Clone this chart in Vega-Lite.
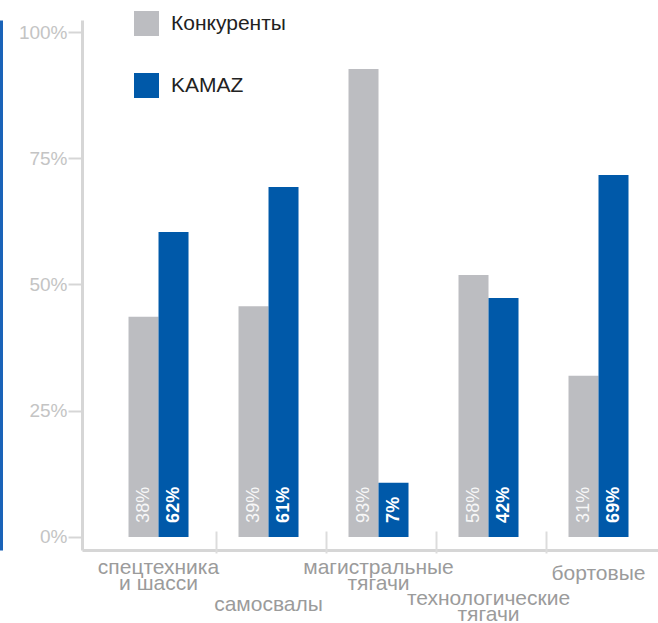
{
  "$schema": "https://vega.github.io/schema/vega-lite/v6.json",
  "width": 576,
  "height": 530,
  "autosize": {"type": "none"},
  "padding": {"left": 82, "top": 20, "right": 0, "bottom": 73},
  "background": "#ffffff",
  "config": {
    "font": "Liberation Sans",
    "view": {"stroke": null},
    "axis": {"grid": false, "title": null}
  },
  "data": {
    "values": [
      {"cat": "спецтехника и шасси", "series": "Конкуренты", "value": 43.6, "label": "38%"},
      {"cat": "спецтехника и шасси", "series": "KAMAZ", "value": 60.4, "label": "62%"},
      {"cat": "самосвалы", "series": "Конкуренты", "value": 45.7, "label": "39%"},
      {"cat": "самосвалы", "series": "KAMAZ", "value": 69.3, "label": "61%"},
      {"cat": "магистральные тягачи", "series": "Конкуренты", "value": 92.7, "label": "93%"},
      {"cat": "магистральные тягачи", "series": "KAMAZ", "value": 10.7, "label": "7%"},
      {"cat": "технологические тягачи", "series": "Конкуренты", "value": 51.9, "label": "58%"},
      {"cat": "технологические тягачи", "series": "KAMAZ", "value": 47.3, "label": "42%"},
      {"cat": "бортовые", "series": "Конкуренты", "value": 31.9, "label": "31%"},
      {"cat": "бортовые", "series": "KAMAZ", "value": 71.7, "label": "69%"}
    ]
  },
  "encoding": {
    "x": {
      "field": "cat",
      "type": "nominal",
      "sort": ["спецтехника и шасси", "самосвалы", "магистральные тягачи", "технологические тягачи", "бортовые"],
      "scale": {"paddingInner": 0.4545, "paddingOuter": 0.3455, "align": 0.612}
    },
    "xOffset": {
      "field": "series",
      "type": "nominal",
      "sort": ["Конкуренты", "KAMAZ"],
      "scale": {"paddingInner": 0, "paddingOuter": 0}
    }
  },
  "layer": [
    {
      "mark": {"type": "bar"},
      "encoding": {
        "x": {
          "field": "cat",
          "type": "nominal",
          "sort": ["спецтехника и шасси", "самосвалы", "магистральные тягачи", "технологические тягачи", "бортовые"],
          "axis": {
            "orient": "bottom",
            "domain": true,
            "domainColor": "#d6d6d6",
            "domainWidth": 3,
            "ticks": false,
            "tickSize": 0,
            "labelAngle": 0,
            "labelPadding": {
              "condition": [
                {"test": "datum.value === 'самосвалы'", "value": 43},
                {"test": "datum.value === 'технологические тягачи'", "value": 37},
                {"test": "datum.value === 'бортовые'", "value": 12}
              ],
              "value": 6
            },
            "labelBaseline": "top",
            "labelFontSize": 21,
            "labelLineHeight": 16,
            "labelColor": "#9b9b9b",
            "labelOverlap": false,
            "labelLimit": 0,
            "labelBound": false,
            "labelFlush": false,
            "labelExpr": "indexof(datum.value, ' ') > 0 ? [substring(datum.value, 0, indexof(datum.value, ' ')), substring(datum.value, indexof(datum.value, ' ') + 1)] : datum.value"
          }
        },
        "y": {
          "field": "value",
          "type": "quantitative",
          "scale": {"domain": [-2.6, 102.4], "nice": false, "zero": false},
          "axis": {
            "orient": "left",
            "values": [0, 25, 50, 75, 100],
            "labelExpr": "datum.value + '%'",
            "domainColor": "#d6d6d6",
            "domainWidth": 3,
            "tickColor": "#d6d6d6",
            "tickWidth": 2,
            "tickSize": 14,
            "labelPadding": 1,
            "labelFontSize": 19,
            "labelColor": "#c4c4c4"
          }
        },
        "color": {
          "field": "series",
          "type": "nominal",
          "sort": ["Конкуренты", "KAMAZ"],
          "scale": {"domain": ["Конкуренты", "KAMAZ"], "range": ["#bcbdc1", "#0059a9"]},
          "legend": {
            "orient": "none",
            "legendX": 52,
            "legendY": -9,
            "title": null,
            "padding": 0,
            "symbolType": "square",
            "symbolSize": 625,
            "symbolStrokeWidth": 0,
            "symbolOffset": 0,
            "labelFontSize": 21,
            "labelColor": "#222222",
            "labelOffset": 12,
            "rowPadding": 37,
            "labelLimit": 0
          }
        }
      }
    },
    {
      "transform": [{"filter": "datum.series === 'Конкуренты'"}],
      "mark": {"type": "text", "angle": 270, "align": "left", "baseline": "middle", "dx": 14, "fontSize": 18, "fontWeight": "normal", "color": "#f7f7f7"},
      "encoding": {
        "x": {
          "field": "cat",
          "type": "nominal",
          "sort": ["спецтехника и шасси", "самосвалы", "магистральные тягачи", "технологические тягачи", "бортовые"],
          "axis": {
            "orient": "bottom",
            "offset": -19,
            "domain": false,
            "labels": false,
            "ticks": true,
            "tickSize": 22,
            "tickColor": "#dcdcdc",
            "tickWidth": 2,
            "tickOffset": 57,
            "tickOpacity": {"condition": {"test": "datum.value === 'бортовые'", "value": 0}, "value": 1}
          }
        },
        "y": {
          "datum": 0,
          "type": "quantitative",
          "axis": {
            "orient": "left",
            "offset": 81,
            "domainColor": "#1a63b8",
            "domainWidth": 3,
            "ticks": false,
            "labels": false
          }
        },
        "text": {"field": "label"}
      }
    },
    {
      "transform": [{"filter": "datum.series === 'KAMAZ'"}],
      "mark": {"type": "text", "angle": 270, "align": "left", "baseline": "middle", "dx": 14, "fontSize": 18, "fontWeight": "bold", "color": "#ffffff"},
      "encoding": {
        "x": {
          "field": "cat",
          "type": "nominal",
          "sort": ["спецтехника и шасси", "самосвалы", "магистральные тягачи", "технологические тягачи", "бортовые"],
          "axis": null
        },
        "y": {"datum": 0, "type": "quantitative", "axis": null},
        "text": {"field": "label"}
      }
    }
  ],
  "resolve": {"axis": {"x": "independent", "y": "independent"}}
}
